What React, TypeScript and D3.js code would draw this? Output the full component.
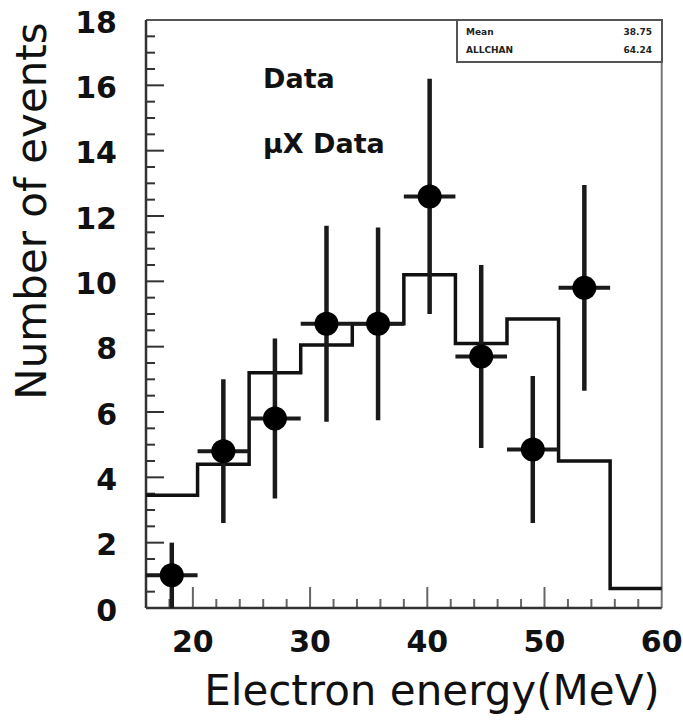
import React from 'react';
import * as d3 from 'd3';

const binEdges = [16, 20.4, 24.8, 29.2, 33.6, 38, 42.4, 46.8, 51.2, 55.6, 60];
const histValues = [3.45, 4.4, 7.2, 8.05, 8.7, 10.2, 8.1, 8.85, 4.5, 0.6];
const pointX = [18.2, 22.6, 27.0, 31.4, 35.8, 40.2, 44.6, 49.0, 53.4];
const pointY = [1.0, 4.8, 5.8, 8.7, 8.7, 12.6, 7.7, 4.85, 9.8];
const pointErr = [1.0, 2.2, 2.45, 3.0, 2.95, 3.6, 2.8, 2.25, 3.15];
const pointHalfWidth = 2.2;
const xTickLabels = [20, 30, 40, 50, 60];
const yTickLabels = [0, 2, 4, 6, 8, 10, 12, 14, 16, 18];
const statsLabels = ['Mean', 'ALLCHAN'];
const statsValues = ['38.75', '64.24'];
const legendLabels = ['Data', 'μX Data'];

const W = 683;
const H = 723;
const L = 146, R = 661.7, T = 20, B = 608;

export default function App() {
  const x = d3.scaleLinear().domain([16, 60]).range([L, R]);
  const y = d3.scaleLinear().domain([0, 18]).range([B, T]);

  const histPts: [number, number][] = histValues.map((v, i) => [binEdges[i], v]);
  histPts.push([binEdges[binEdges.length - 1], histValues[histValues.length - 1]]);
  const histPath = d3
    .line<[number, number]>()
    .x((d) => x(d[0]))
    .y((d) => y(d[1]))
    .curve(d3.curveStepAfter)(histPts) as string;

  const yTicks = d3.range(0, 18.001, 0.5).filter((v) => v > 0 && v < 18);
  const xTicks = d3.range(18, 59, 2);

  const font = '"DejaVu Sans", Verdana, sans-serif';

  return (
    <svg
      width={W}
      height={H}
      style={{ position: 'absolute', left: 0, top: 0, background: '#fff' }}
    >
      <rect x={0} y={0} width={W} height={H} fill="#fff" />

      {/* y ticks */}
      {yTicks.map((v) => {
        const major = Math.abs(v % 2) < 1e-6;
        return (
          <line
            key={'yt' + v}
            x1={L}
            x2={L + (major ? 18 : 9)}
            y1={y(v)}
            y2={y(v)}
            stroke="#333"
            strokeWidth={2}
          />
        );
      })}
      {/* x ticks */}
      {xTicks.map((v) => {
        const major = v % 10 === 0;
        return (
          <line
            key={'xt' + v}
            x1={x(v)}
            x2={x(v)}
            y1={B}
            y2={B - (major ? 21 : 9)}
            stroke="#666"
            strokeWidth={2}
          />
        );
      })}

      {/* frame */}
      <line x1={L} x2={R} y1={T} y2={T} stroke="#555" strokeWidth={2} />
      <line x1={R} x2={R} y1={T} y2={B} stroke="#777" strokeWidth={2} />
      <line x1={L} x2={R} y1={B} y2={B} stroke="#333" strokeWidth={2.5} />
      <line x1={L} x2={L} y1={T} y2={B} stroke="#333" strokeWidth={2.5} />

      {/* histogram */}
      <path d={histPath} fill="none" stroke="#111" strokeWidth={3.5} />

      {/* data points */}
      {pointX.map((px, i) => (
        <g key={'p' + i}>
          <line
            x1={x(px)}
            x2={x(px)}
            y1={y(Math.max(0, pointY[i] - pointErr[i]))}
            y2={y(pointY[i] + pointErr[i])}
            stroke="#1a1a1a"
            strokeWidth={4.5}
          />
          <line
            x1={x(px - pointHalfWidth)}
            x2={x(px + pointHalfWidth)}
            y1={y(pointY[i])}
            y2={y(pointY[i])}
            stroke="#1a1a1a"
            strokeWidth={4}
          />
          <circle cx={x(px)} cy={y(pointY[i])} r={12} fill="#000" />
        </g>
      ))}

      {/* y tick labels */}
      {yTickLabels.map((v) => (
        <text
          key={'yl' + v}
          x={117}
          y={y(v) + 2}
          textAnchor="end"
          dominantBaseline="central"
          fontFamily={font}
          fontWeight="bold"
          fontSize={30}
          fill="#111"
        >
          {v}
        </text>
      ))}
      {/* x tick labels */}
      {xTickLabels.map((v) => (
        <text
          key={'xl' + v}
          x={x(v)}
          y={652}
          textAnchor="middle"
          fontFamily={font}
          fontWeight="bold"
          fontSize={30}
          fill="#111"
        >
          {v}
        </text>
      ))}

      {/* axis titles */}
      <text
        x={432}
        y={705}
        textAnchor="middle"
        fontFamily={font}
        fontSize={42}
        fill="#111"
      >
        Electron energy(MeV)
      </text>
      <text
        transform="translate(46,211) rotate(-90)"
        textAnchor="middle"
        fontFamily={font}
        fontSize={42}
        fill="#111"
      >
        Number of events
      </text>

      {/* legend texts */}
      {legendLabels.map((t, i) => (
        <text
          key={'lg' + i}
          x={263}
          y={88 + i * 65}
          fontFamily={font}
          fontWeight="bold"
          fontSize={27}
          fill="#111"
        >
          {t}
        </text>
      ))}

      {/* stats box */}
      <rect x={457} y={20} width={205} height={42} fill="#fff" stroke="#555" strokeWidth={2} />
      {statsLabels.map((t, i) => (
        <g key={'st' + i}>
          <text x={466} y={35 + i * 18} fontFamily={font} fontWeight="bold" fontSize={9} fill="#222">
            {t}
          </text>
          <text
            x={652}
            y={35 + i * 18}
            textAnchor="end"
            fontFamily={font}
            fontWeight="bold"
            fontSize={9}
            fill="#222"
          >
            {statsValues[i]}
          </text>
        </g>
      ))}
    </svg>
  );
}
